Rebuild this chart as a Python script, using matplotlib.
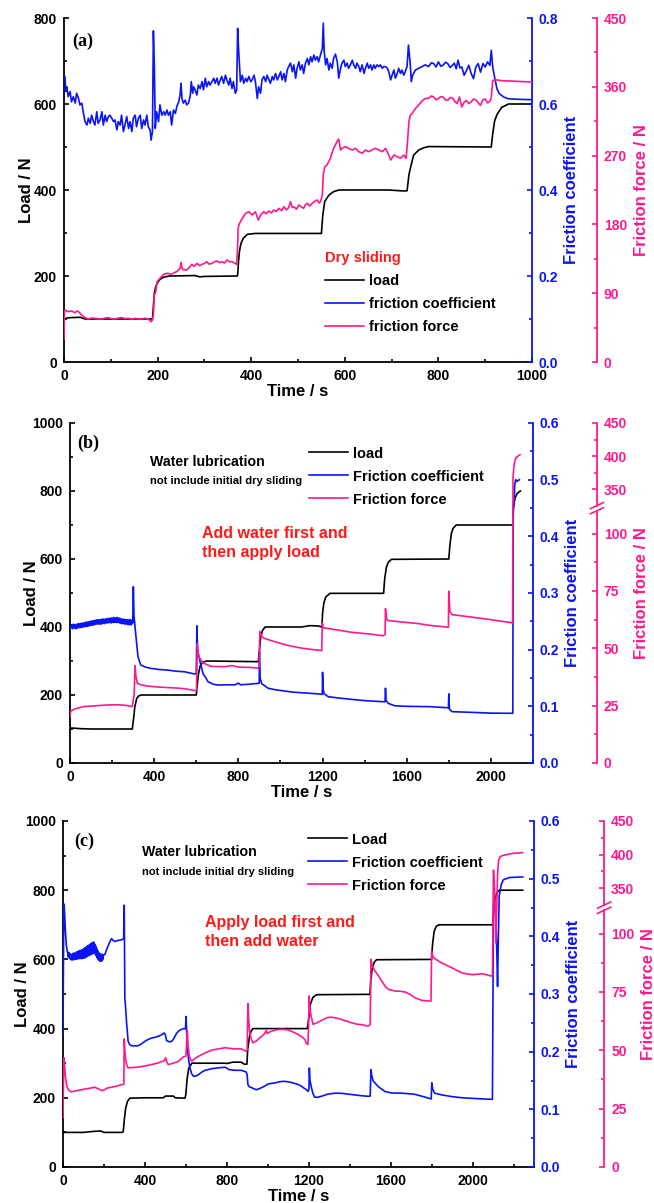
import numpy as np
import matplotlib
matplotlib.use("Agg")
import matplotlib.pyplot as plt
import matplotlib.transforms as mtransforms
from matplotlib.lines import Line2D
from matplotlib.ticker import MultipleLocator, FixedLocator, FuncFormatter, FormatStrFormatter

plt.rcParams['font.family'] = ['Liberation Sans', 'DejaVu Sans']
plt.rcParams['font.weight'] = 'bold'
plt.rcParams['axes.labelweight'] = 'bold'

BLACK = '#000000'
BLUE = '#0A14F5'
PINK = '#FF1A8C'
RED = '#FF1A1A'

# ---------------- (a) dry sliding: (time s, value) ----------------
A_LOAD = [(0, 100), (10, 103), (35, 104), (45, 100), (189, 100), (191, 130), (193, 160), (196, 175),
          (200, 185), (205, 192), (212, 197), (225, 200), (280, 201), (290, 198), (300, 199), (370, 200),
          (371, 202), (373, 235), (375, 258), (378, 275), (383, 288), (392, 297), (409, 299), (550, 299),
          (553, 342), (557, 373), (566, 388), (576, 396), (587, 400), (694, 400), (722, 398), (733, 398),
          (737, 435), (740, 450), (747, 481), (758, 493), (768, 498), (779, 501), (913, 500), (916, 530),
          (920, 560), (925, 575), (935, 592), (950, 600), (1000, 600)]

A_MU = [(0, 0.665), (2, 0.664), (4, 0.629), (6, 0.64), (9, 0.617), (13, 0.629), (16, 0.605), (20, 0.617),
        (24, 0.602), (27, 0.625), (31, 0.613), (34, 0.598), (38, 0.602), (41, 0.582), (45, 0.559),
        (49, 0.551), (52, 0.567), (56, 0.555), (59, 0.574), (63, 0.559), (66, 0.551), (70, 0.582),
        (73, 0.555), (77, 0.563), (81, 0.582), (84, 0.551), (88, 0.574), (91, 0.559), (95, 0.571),
        (98, 0.574), (102, 0.567), (106, 0.559), (109, 0.563), (113, 0.54), (116, 0.559), (120, 0.551),
        (123, 0.574), (127, 0.536), (131, 0.555), (134, 0.571), (138, 0.543), (141, 0.559), (145, 0.536),
        (148, 0.567), (152, 0.574), (155, 0.547), (159, 0.567), (163, 0.574), (166, 0.543), (170, 0.563),
        (173, 0.551), (177, 0.574), (180, 0.547), (184, 0.54), (186, 0.516), (189, 0.536), (191, 0.77),
        (193, 0.691), (195, 0.543), (198, 0.582), (202, 0.559), (205, 0.598), (209, 0.574), (213, 0.582),
        (216, 0.574), (220, 0.586), (223, 0.574), (227, 0.582), (230, 0.551), (234, 0.586), (238, 0.578),
        (241, 0.594), (245, 0.605), (248, 0.621), (250, 0.648), (252, 0.613), (255, 0.602), (259, 0.609),
        (262, 0.598), (266, 0.602), (270, 0.621), (272, 0.652), (275, 0.625), (277, 0.64), (280, 0.633),
        (284, 0.621), (287, 0.644), (291, 0.636), (295, 0.652), (298, 0.633), (302, 0.66), (305, 0.64),
        (309, 0.652), (312, 0.644), (316, 0.652), (320, 0.66), (323, 0.648), (327, 0.66), (330, 0.644),
        (334, 0.656), (337, 0.664), (341, 0.648), (345, 0.667), (348, 0.656), (352, 0.644), (355, 0.66),
        (359, 0.636), (362, 0.652), (366, 0.625), (369, 0.633), (371, 0.776), (373, 0.729), (377, 0.652),
        (381, 0.667), (384, 0.648), (388, 0.66), (391, 0.652), (395, 0.664), (399, 0.652), (402, 0.656),
        (406, 0.667), (409, 0.652), (413, 0.613), (416, 0.64), (420, 0.625), (423, 0.656), (427, 0.664),
        (431, 0.652), (434, 0.667), (438, 0.656), (441, 0.648), (445, 0.664), (448, 0.656), (452, 0.671),
        (456, 0.656), (459, 0.664), (463, 0.675), (466, 0.656), (470, 0.671), (473, 0.652), (477, 0.679),
        (480, 0.687), (484, 0.695), (488, 0.675), (491, 0.691), (495, 0.66), (498, 0.683), (502, 0.698),
        (505, 0.679), (509, 0.691), (512, 0.671), (516, 0.695), (520, 0.706), (523, 0.691), (527, 0.71),
        (530, 0.698), (534, 0.714), (537, 0.702), (541, 0.71), (544, 0.698), (548, 0.714), (552, 0.729),
        (554, 0.788), (556, 0.722), (559, 0.691), (562, 0.706), (566, 0.679), (569, 0.695), (573, 0.683),
        (576, 0.706), (580, 0.716), (584, 0.698), (587, 0.66), (591, 0.683), (594, 0.695), (598, 0.702),
        (601, 0.687), (605, 0.695), (608, 0.683), (612, 0.691), (616, 0.702), (619, 0.691), (623, 0.683),
        (626, 0.695), (630, 0.687), (633, 0.675), (637, 0.691), (641, 0.671), (644, 0.683), (648, 0.695),
        (651, 0.683), (655, 0.691), (658, 0.679), (662, 0.691), (665, 0.683), (669, 0.691), (673, 0.687),
        (676, 0.691), (680, 0.683), (683, 0.687), (687, 0.687), (691, 0.683), (694, 0.675), (698, 0.656),
        (701, 0.667), (705, 0.679), (708, 0.66), (712, 0.671), (715, 0.683), (719, 0.671), (722, 0.679),
        (726, 0.667), (729, 0.675), (733, 0.687), (736, 0.737), (740, 0.691), (742, 0.652), (745, 0.667),
        (751, 0.679), (758, 0.683), (765, 0.687), (772, 0.691), (779, 0.687), (785, 0.696), (790, 0.694),
        (795, 0.686), (800, 0.698), (805, 0.688), (810, 0.69), (815, 0.697), (820, 0.694), (825, 0.685),
        (830, 0.69), (834, 0.695), (838, 0.682), (842, 0.702), (846, 0.684), (850, 0.686), (855, 0.667),
        (860, 0.678), (865, 0.69), (870, 0.671), (875, 0.659), (880, 0.686), (885, 0.694), (890, 0.674),
        (895, 0.694), (900, 0.686), (905, 0.698), (910, 0.69), (913, 0.725), (916, 0.686), (920, 0.663),
        (925, 0.636), (930, 0.624), (940, 0.616), (950, 0.612), (970, 0.611), (1000, 0.61)]

A_FORCE = [(0, 30), (1, 66), (2, 68), (9, 65.8), (16, 66.7), (24, 64.5), (28, 67), (31, 65.8), (38, 61.5),
           (45, 58), (52, 56.2), (59, 57.5), (66, 57.1), (73, 56.5), (81, 56.2), (88, 57.5), (95, 58),
           (102, 56.5), (109, 56.2), (116, 57.5), (123, 58), (130, 56.8), (138, 57.1), (145, 56),
           (152, 57.1), (159, 56.5), (166, 56.2), (173, 57.3), (180, 56.2), (186, 52.8), (189, 55),
           (191, 61.5), (193, 87.6), (196, 92), (199, 105), (205, 109.4), (213, 114.7), (220, 116),
           (230, 115), (236, 117), (241, 118.2), (248, 122.5), (250, 130.4), (253, 121), (262, 120.3),
           (268, 124), (273, 127.7), (278, 125), (284, 129), (290, 126), (295, 127.7), (300, 129),
           (305, 131.2), (310, 128), (316, 129), (321, 131), (327, 132.1), (332, 130), (337, 131.2),
           (343, 129.5), (348, 133.4), (354, 131), (359, 131.2), (366, 129), (369, 127.7), (371, 150),
           (372, 174.8), (375, 181.4), (381, 188), (388, 194.5), (395, 196.6), (402, 192.3), (409, 196.6),
           (415, 185.7), (420, 192.3), (427, 196.6), (432, 194), (438, 197.5), (443, 195), (448, 198.8),
           (454, 197), (459, 201), (465, 198), (470, 203.2), (475, 199), (480, 201.9), (484, 209.7),
           (488, 202), (491, 203), (497, 200), (502, 205.4), (507, 203), (512, 201), (516, 206),
           (520, 207.5), (525, 204), (530, 207.5), (535, 210), (541, 211.9), (545, 208), (548, 209.7),
           (552, 218.4), (554, 244.6), (557, 255.5), (562, 257.7), (569, 266.4), (576, 279.5), (584, 289),
           (587, 291.7), (591, 277.3), (594, 279.5), (601, 281.7), (608, 279.5), (616, 277.3), (623, 279.5),
           (630, 275.1), (637, 273), (644, 277.3), (651, 275.1), (658, 277.3), (665, 279.5), (673, 277.3),
           (680, 275.1), (687, 279.5), (694, 270.8), (698, 264.2), (705, 270.8), (712, 268.6), (719, 266.4),
           (726, 270.8), (731, 266.4), (734, 288.2), (737, 314.4), (740, 323), (744, 325.3), (751, 331.8),
           (758, 336.2), (765, 341.4), (772, 344.9), (779, 344.9), (785, 348), (790, 346.7), (795, 343),
           (800, 344.5), (805, 347), (810, 346.7), (815, 343), (820, 342.3), (825, 346), (830, 345.4),
           (835, 341), (840, 338), (845, 346.7), (850, 333.6), (855, 340), (860, 342), (865, 338),
           (870, 340.2), (875, 344), (880, 343), (885, 339), (890, 335.8), (895, 343), (900, 344),
           (905, 339), (910, 341), (913, 346), (916, 368.5), (925, 369), (935, 368), (950, 367.6),
           (975, 367), (1000, 366.3)]

# ---------------- (b) water added first, then load ----------------
B_LOAD = [(0, 100), (5, 103), (50, 101), (100, 100), (296, 100), (302, 130), (308, 165), (317, 190),
          (328, 198), (340, 200), (600, 200), (604, 225), (610, 260), (618, 285), (632, 297), (650, 300),
          (895, 298), (900, 330), (906, 370), (915, 390), (927, 400), (1100, 400), (1140, 404), (1180, 403),
          (1197, 400), (1200, 440), (1206, 470), (1215, 488), (1235, 499), (1490, 499), (1495, 540),
          (1503, 575), (1512, 590), (1527, 599), (1800, 600), (1805, 640), (1812, 675), (1820, 690),
          (1835, 700), (2104, 700), (2108, 760), (2115, 780), (2125, 793), (2140, 800)]

B_MU = [(0, 0.235), (4, 0.24), (8, 0.244), (12, 0.237), (16, 0.245), (20, 0.238), (24, 0.244), (28, 0.237),
        (32, 0.245), (36, 0.238), (40, 0.246), (44, 0.239), (48, 0.246), (52, 0.239), (56, 0.247),
        (60, 0.240), (64, 0.247), (68, 0.240), (72, 0.248), (76, 0.241), (80, 0.249), (84, 0.241),
        (88, 0.249), (92, 0.242), (96, 0.250), (100, 0.243), (104, 0.251), (108, 0.243), (112, 0.251),
        (116, 0.244), (120, 0.252), (124, 0.245), (128, 0.253), (132, 0.245), (136, 0.253), (140, 0.245),
        (144, 0.253), (148, 0.245), (152, 0.254), (156, 0.246), (160, 0.254), (164, 0.246), (168, 0.254),
        (172, 0.247), (176, 0.255), (180, 0.247), (184, 0.255), (188, 0.248), (192, 0.256), (196, 0.247),
        (200, 0.256), (204, 0.248), (208, 0.257), (212, 0.248), (216, 0.256), (220, 0.248), (224, 0.257),
        (228, 0.248), (232, 0.256), (236, 0.247), (240, 0.255), (244, 0.246), (248, 0.254), (252, 0.246),
        (256, 0.254), (260, 0.245), (264, 0.253), (268, 0.245), (272, 0.253), (276, 0.244), (280, 0.253),
        (284, 0.244), (288, 0.253), (292, 0.244), (296, 0.252), (298, 0.247), (301, 0.311), (304, 0.26),
        (312, 0.2285), (323, 0.1876), (336, 0.173), (360, 0.169), (384, 0.167), (424, 0.165), (464, 0.164),
        (504, 0.162), (544, 0.161), (592, 0.157), (600, 0.158), (603, 0.242), (606, 0.2), (616, 0.1817),
        (632, 0.158), (656, 0.1435), (680, 0.139), (704, 0.1376), (744, 0.138), (784, 0.138), (800, 0.141),
        (810, 0.138), (850, 0.139), (895, 0.1406), (899, 0.141), (900, 0.196), (903, 0.15), (911, 0.14),
        (942, 0.1318), (980, 0.129), (1021, 0.127), (1060, 0.125), (1100, 0.124), (1140, 0.123),
        (1187, 0.1218), (1199, 0.121), (1200, 0.16), (1203, 0.13), (1208, 0.122), (1227, 0.117),
        (1280, 0.1145), (1337, 0.1124), (1400, 0.11), (1450, 0.109), (1497, 0.108), (1499, 0.132),
        (1502, 0.11), (1512, 0.1053), (1543, 0.101), (1600, 0.1), (1709, 0.0994), (1798, 0.0975),
        (1800, 0.122), (1803, 0.095), (1815, 0.0906), (1900, 0.0895), (2000, 0.088), (2104, 0.0877),
        (2106, 0.45), (2110, 0.455), (2113, 0.49), (2118, 0.5), (2125, 0.497), (2135, 0.5)]

B_FORCE = [(0, 20), (3, 22.5), (20, 23.5), (64, 24.6), (100, 24.8), (144, 25.1), (180, 25.3), (224, 25.4),
           (260, 25.2), (296, 24.6), (305, 30), (309, 42.4), (313, 38), (320, 34.8), (336, 34.1),
           (360, 33.7), (384, 33.4), (424, 33.1), (464, 32.9), (504, 32.7), (544, 32.4), (592, 31.6),
           (601, 31.5), (605, 51.9), (610, 47), (616, 45.8), (632, 43.6), (672, 42.1), (736, 42.0),
           (770, 42.5), (800, 41.8), (850, 41.7), (895, 41.4), (899, 42), (902, 57.4), (910, 55.5),
           (919, 54.5), (942, 53.8), (980, 52.7), (1021, 51.6), (1060, 50.8), (1100, 50.1), (1150, 49.5),
           (1187, 49.1), (1196, 49), (1199, 61.1), (1203, 59), (1208, 58.9), (1258, 58.2), (1337, 57.0),
           (1416, 56.3), (1488, 55.5), (1497, 56), (1499, 67.3), (1504, 63), (1511, 62.1), (1543, 61.8),
           (1654, 60.8), (1709, 60.0), (1798, 59.2), (1800, 74.9), (1805, 66), (1815, 64.7), (1900, 63.7),
           (2000, 62.5), (2103, 61.1), (2105, 366), (2108, 380), (2113, 392), (2120, 398), (2138, 402)]

# ---------------- (c) load applied first, then water ----------------
C_LOAD = [(0, 100), (100, 100), (150, 103), (185, 104), (200, 100), (290, 100), (294, 102), (300, 140),
          (306, 170), (315, 190), (327, 199), (400, 200), (490, 200), (500, 205), (540, 205), (548, 200),
          (596, 199), (600, 210), (606, 255), (614, 285), (629, 300), (790, 300), (800, 299), (830, 303),
          (870, 303), (886, 297), (898, 297), (902, 340), (910, 375), (918, 392), (927, 400), (1193, 400),
          (1200, 430), (1208, 470), (1220, 490), (1238, 498), (1499, 499), (1503, 540), (1510, 575),
          (1520, 592), (1531, 599), (1800, 600), (1804, 640), (1812, 680), (1822, 695), (1835, 700),
          (2098, 700), (2103, 740), (2110, 775), (2118, 792), (2130, 800), (2245, 800)]

C_MU = [(0, 0.23), (3, 0.40), (5, 0.456), (8, 0.44), (11, 0.4144), (16, 0.385), (21, 0.374), (24, 0.371),
        (26, 0.364), (28, 0.372), (30, 0.363), (32, 0.370), (34, 0.361), (36, 0.369), (38, 0.360),
        (40, 0.368), (42, 0.359), (44, 0.369), (46, 0.360), (48, 0.370), (50, 0.359), (52, 0.371),
        (54, 0.360), (56, 0.370), (58, 0.361), (60, 0.371), (62, 0.360), (64, 0.372), (66, 0.361),
        (68, 0.373), (70, 0.361), (72, 0.372), (74, 0.362), (76, 0.374), (78, 0.361), (80, 0.375),
        (82, 0.362), (84, 0.376), (86, 0.362), (88, 0.375), (90, 0.361), (92, 0.376), (94, 0.362),
        (96, 0.377), (98, 0.363), (100, 0.378), (102, 0.362), (104, 0.379), (106, 0.364), (108, 0.380),
        (110, 0.363), (112, 0.381), (114, 0.365), (116, 0.382), (118, 0.366), (120, 0.383), (122, 0.366),
        (124, 0.384), (126, 0.367), (128, 0.385), (130, 0.368), (132, 0.386), (134, 0.368), (136, 0.387),
        (138, 0.369), (140, 0.388), (142, 0.370), (144, 0.389), (146, 0.370), (148, 0.390), (150, 0.372),
        (152, 0.389), (154, 0.371), (156, 0.386), (158, 0.369), (160, 0.383), (162, 0.366), (164, 0.379),
        (166, 0.363), (168, 0.376), (170, 0.361), (172, 0.373), (174, 0.359), (176, 0.371), (178, 0.358),
        (180, 0.370), (182, 0.357), (184, 0.369), (186, 0.357), (188, 0.368), (190, 0.358), (192, 0.369),
        (194, 0.360), (196, 0.368), (204, 0.368), (212, 0.376), (220, 0.383), (228, 0.39), (237, 0.396),
        (245, 0.393), (253, 0.391), (270, 0.393), (286, 0.394), (296, 0.396), (299, 0.454), (301, 0.35),
        (302, 0.293), (305, 0.28), (310, 0.2526), (318, 0.218), (326, 0.212), (335, 0.2104), (350, 0.21),
        (367, 0.2104), (385, 0.214), (400, 0.218), (415, 0.221), (433, 0.2237), (450, 0.225), (465, 0.2266),
        (480, 0.229), (495, 0.2324), (500, 0.229), (506, 0.219), (520, 0.217), (531, 0.218), (540, 0.222),
        (547, 0.227), (555, 0.232), (563, 0.2353), (575, 0.238), (588, 0.2399), (598, 0.24), (601, 0.261),
        (604, 0.23), (609, 0.2006), (614, 0.185), (620, 0.1717), (628, 0.162), (637, 0.1572), (650, 0.158),
        (661, 0.160), (680, 0.165), (694, 0.1676), (710, 0.169), (727, 0.1705), (760, 0.172), (792, 0.173),
        (810, 0.169), (837, 0.1677), (870, 0.1677), (895, 0.1647), (899, 0.16), (903, 0.1427), (910, 0.139),
        (919, 0.138), (930, 0.136), (944, 0.134), (960, 0.136), (984, 0.14), (1001, 0.144), (1033, 0.1457),
        (1060, 0.148), (1082, 0.1486), (1110, 0.147), (1131, 0.145), (1150, 0.143), (1164, 0.14),
        (1180, 0.136), (1189, 0.134), (1197, 0.1312), (1201, 0.135), (1203, 0.1717), (1206, 0.15),
        (1213, 0.138), (1220, 0.128), (1229, 0.1209), (1245, 0.121), (1262, 0.1226), (1295, 0.1266),
        (1330, 0.128), (1360, 0.1278), (1390, 0.1265), (1425, 0.125), (1460, 0.1235), (1491, 0.1226),
        (1500, 0.123), (1504, 0.1687), (1508, 0.158), (1515, 0.149), (1540, 0.1393), (1572, 0.131),
        (1605, 0.1283), (1654, 0.128), (1690, 0.127), (1719, 0.126), (1760, 0.122), (1793, 0.1185),
        (1798, 0.118), (1801, 0.146), (1805, 0.135), (1815, 0.128), (1850, 0.125), (1900, 0.122),
        (1950, 0.120), (2000, 0.119), (2050, 0.118), (2097, 0.1174), (2100, 0.30), (2102, 0.454),
        (2108, 0.452), (2113, 0.44), (2118, 0.38), (2122, 0.313), (2126, 0.40), (2130, 0.47), (2140, 0.49),
        (2150, 0.498), (2180, 0.502), (2245, 0.503)]

C_FORCE = [(0, 21), (3, 40), (5, 46.8), (8, 43), (11, 39.6), (16, 36), (21, 33.9), (30, 32.8), (41, 32.2),
           (55, 32.5), (73, 32.8), (100, 33.3), (122, 33.6), (140, 33.9), (155, 34.2), (170, 33.6),
           (188, 32.8), (200, 33), (215, 33.8), (237, 34.2), (260, 34.6), (286, 35.3), (297, 35.5),
           (299, 54.9), (302, 50), (305, 46.8), (310, 44), (318, 42.5), (340, 42.6), (367, 42.8),
           (400, 43.3), (433, 43.9), (465, 44.6), (495, 45.6), (501, 46.8), (507, 45), (514, 43.9),
           (540, 44.5), (563, 45.2), (588, 47.2), (600, 47.5), (603, 52), (607, 58.7), (611, 52),
           (616, 47.9), (622, 46), (629, 45.4), (645, 46.5), (661, 47.4), (694, 48.9), (727, 50.1),
           (760, 50.6), (792, 51.1), (837, 50.6), (870, 50.6), (894, 49.6), (899, 50), (903, 70),
           (907, 63), (911, 58.2), (919, 55), (927, 53.2), (944, 54.0), (965, 55.6), (984, 57.1),
           (993, 58.6), (996, 57.2), (1001, 57.5), (1025, 58.4), (1050, 58.9), (1075, 59), (1099, 58.7),
           (1125, 57.8), (1148, 56.8), (1172, 55.4), (1182, 54.5), (1189, 52.8), (1196, 52.5), (1199, 60),
           (1202, 73.3), (1206, 68), (1210, 65.4), (1221, 61.1), (1240, 61.8), (1262, 62.8), (1290, 64),
           (1311, 64.2), (1335, 63.8), (1360, 63.2), (1385, 62.5), (1409, 61.8), (1435, 61.2), (1458, 61),
           (1480, 60.6), (1491, 60.4), (1500, 61), (1504, 89.0), (1510, 86.1), (1523, 84.0), (1540, 82),
           (1556, 79.7), (1573, 77.5), (1589, 76.1), (1621, 75.4), (1645, 75.3), (1670, 75.0), (1695, 74),
           (1719, 72.5), (1752, 71.4), (1775, 71.2), (1797, 71.1), (1800, 92.4), (1805, 90.5), (1810, 89.6),
           (1850, 87.4), (1900, 85.3), (1950, 83.1), (2000, 82.4), (2050, 82.8), (2097, 81.7), (2100, 200),
           (2102, 377), (2106, 360), (2110, 300), (2114, 96), (2118, 250), (2122, 370), (2127, 392),
           (2135, 397), (2150, 399), (2200, 402), (2245, 403)]

# broken friction-force axis: 0-110 on the lower part, 325-450 on the upper part
LOW_TOP, HIGH_BOT, F_MAX = 110.0, 325.0, 450.0
S_LOW, S_HIGH = 0.742, 0.757


def fwd(v):
    v = np.asarray(v, dtype=float)
    lo = v / LOW_TOP * S_LOW
    mid = S_LOW + (v - LOW_TOP) / (HIGH_BOT - LOW_TOP) * (S_HIGH - S_LOW)
    hi = S_HIGH + (v - HIGH_BOT) / (F_MAX - HIGH_BOT) * (1.0 - S_HIGH)
    return np.where(v <= LOW_TOP, lo, np.where(v < HIGH_BOT, mid, hi))


def inv(s):
    s = np.asarray(s, dtype=float)
    lo = s / S_LOW * LOW_TOP
    mid = LOW_TOP + (s - S_LOW) / (S_HIGH - S_LOW) * (HIGH_BOT - LOW_TOP)
    hi = HIGH_BOT + (s - S_HIGH) / (1.0 - S_HIGH) * (F_MAX - HIGH_BOT)
    return np.where(s <= S_LOW, lo, np.where(s < S_HIGH, mid, hi))


W, H = 654, 1203
fig = plt.figure(figsize=(W / 100, H / 100), dpi=100)


def rect(x0, x1, y0, y1):
    return [x0 / W, 1 - y1 / H, (x1 - x0) / W, (y1 - y0) / H]


def unzip(pts):
    t, v = zip(*pts)
    return np.array(t, float), np.array(v, float)


def style_ticks(a, color):
    a.tick_params(axis='y', which='both', direction='in', colors=color, labelsize=10, width=1.2, pad=5)
    a.tick_params(axis='y', which='major', length=3.5)
    a.tick_params(axis='y', which='minor', length=2.5)


def panel(box, load, mu, force, xmax, xmaj, xmin, load_max, mu_max, mu_maj, mu_min,
          f_offset, broken, ylabel_x):
    ax = fig.add_axes(rect(*box))
    ax2 = ax.twinx()
    ax3 = ax.twinx()
    lw = 1.2
    t, v = unzip(load)
    l1, = ax.plot(t, v, color=BLACK, lw=lw)
    t, v = unzip(mu)
    l2, = ax2.plot(t, v, color=BLUE, lw=lw)
    t, v = unzip(force)
    if broken:
        ax3.set_yscale('function', functions=(fwd, inv))
    l3, = ax3.plot(t, v, color=PINK, lw=lw)

    ax.set_xlim(0, xmax)
    ax.set_ylim(0, load_max)
    ax2.set_ylim(0, mu_max)
    ax3.set_ylim(0, 450)

    for a in (ax, ax2, ax3):
        a.spines['top'].set_visible(False)
    ax.spines['right'].set_visible(False)
    for a in (ax2, ax3):
        a.spines['left'].set_visible(False)
        a.spines['bottom'].set_visible(False)
    for s in ('left', 'bottom'):
        ax.spines[s].set_linewidth(1.3)
    ax2.spines['right'].set_color(BLUE)
    ax2.spines['right'].set_linewidth(1.3)
    ax3.spines['right'].set_color(PINK)
    ax3.spines['right'].set_linewidth(1.3)
    ax3.spines['right'].set_position(('axes', f_offset))

    ax.xaxis.set_major_locator(MultipleLocator(xmaj))
    ax.xaxis.set_minor_locator(MultipleLocator(xmin))
    ax.yaxis.set_major_locator(MultipleLocator(200))
    ax.yaxis.set_minor_locator(MultipleLocator(100))
    ax2.yaxis.set_major_locator(MultipleLocator(mu_maj))
    ax2.yaxis.set_minor_locator(MultipleLocator(mu_min))
    ax2.yaxis.set_major_formatter(FormatStrFormatter('%.1f'))

    ax.tick_params(axis='x', which='both', direction='in', labelsize=10, width=1.2, pad=5)
    ax.tick_params(axis='x', which='major', length=3.5)
    ax.tick_params(axis='x', which='minor', length=2.5)
    style_ticks(ax, BLACK)
    style_ticks(ax2, BLUE)
    style_ticks(ax3, PINK)

    if broken:
        ax3.yaxis.set_major_locator(FixedLocator([0, 25, 50, 75, 100, 350, 400, 450]))
        ax3.yaxis.set_minor_locator(FixedLocator([12.5, 37.5, 62.5, 87.5, 375, 425]))
        ax3.yaxis.set_major_formatter(FuncFormatter(lambda val, p: f"{val:g}"))
        ax3.yaxis.set_minor_formatter(FuncFormatter(lambda val, p: ""))
        ax3.spines['right'].set_bounds(0, LOW_TOP)
        tr = mtransforms.blended_transform_factory(ax3.transAxes, ax3.transData)
        ax3.add_line(Line2D([f_offset, f_offset], [HIGH_BOT, 450], transform=tr, color=PINK,
                            lw=1.3, clip_on=False))
        dx, dy = 0.014, 0.009
        for yb in (S_LOW, S_HIGH):
            ax3.add_line(Line2D([f_offset - dx, f_offset + dx], [yb - dy, yb + dy],
                                transform=ax3.transAxes, color=PINK, lw=1.2, clip_on=False))
        ax3.set_ylim(0, 450)
    else:
        ax3.yaxis.set_major_locator(MultipleLocator(90))
        ax3.yaxis.set_minor_locator(MultipleLocator(45))

    ax.set_xlabel('Time / s', fontsize=12, labelpad=1)
    ax.set_ylabel('Load / N', fontsize=12)
    ax.yaxis.set_label_coords(ylabel_x, 0.5)
    ax2.set_ylabel('Friction coefficient', fontsize=12, color=BLUE, labelpad=4)
    ax3.set_ylabel('Friction force / N', fontsize=12, color=PINK, labelpad=5)
    return ax, (l1, l2, l3)


def add_legend(ax, handles, names, x, ytop, title=None):
    leg = ax.legend(handles, names, loc='upper left', bbox_to_anchor=(x / W, 1 - ytop / H),
                    bbox_transform=fig.transFigure, frameon=False, borderpad=0, borderaxespad=0,
                    handlelength=2.7, handletextpad=0.35, labelspacing=0.62, fontsize=10.5,
                    title=title, title_fontproperties={'weight': 'bold', 'size': 10.5},
                    alignment='left')
    if title:
        leg.get_title().set_color(RED)
    return leg


# (a)
axa, ha = panel((64, 532, 18, 362), A_LOAD, A_MU, A_FORCE, 1000, 200, 100, 800, 0.8, 0.2, 0.1,
                1.139, False, -0.064)
add_legend(axa, ha, ['load', 'friction coefficient', 'friction force'], 325, 251, title='Dry sliding')
fig.text(72 / W, 1 - 41 / H, '(a)', family='Liberation Serif', weight='bold', fontsize=13,
         ha='left', va='center')

# (b)
axb, hb = panel((70, 533, 423, 763), B_LOAD, B_MU, B_FORCE, 2200, 400, 200, 1000, 0.6, 0.1, 0.05,
                1.138, True, -0.0669)
add_legend(axb, hb, ['load', 'Friction coefficient', 'Friction force'], 309, 446.5)
fig.text(77 / W, 1 - 443 / H, '(b)', family='Liberation Serif', weight='bold', fontsize=13,
         ha='left', va='center')
fig.text(150 / W, 1 - 462 / H, 'Water lubrication', fontsize=10.2, ha='left', va='center')
fig.text(150 / W, 1 - 481 / H, 'not include initial dry sliding', fontsize=8, ha='left', va='center')
fig.text(202 / W, 1 - 533 / H, 'Add water first and', fontsize=11.5, color=RED, ha='left', va='center')
fig.text(202 / W, 1 - 553 / H, 'then apply load', fontsize=11.5, color=RED, ha='left', va='center')

# (c)
axc, hc = panel((63, 534, 821, 1167), C_LOAD, C_MU, C_FORCE, 2300, 400, 200, 1000, 0.6, 0.1, 0.05,
                1.149, True, -0.070)
add_legend(axc, hc, ['Load', 'Friction coefficient', 'Friction force'], 308, 832.5)
fig.text(74 / W, 1 - 841 / H, '(c)', family='Liberation Serif', weight='bold', fontsize=13,
         ha='left', va='center')
fig.text(142 / W, 1 - 852 / H, 'Water lubrication', fontsize=10.2, ha='left', va='center')
fig.text(142 / W, 1 - 872 / H, 'not include initial dry sliding', fontsize=8, ha='left', va='center')
fig.text(205 / W, 1 - 922 / H, 'Apply load first and', fontsize=11.5, color=RED, ha='left', va='center')
fig.text(205 / W, 1 - 942 / H, 'then add water', fontsize=11.5, color=RED, ha='left', va='center')

fig.savefig('out.png', dpi=100)
